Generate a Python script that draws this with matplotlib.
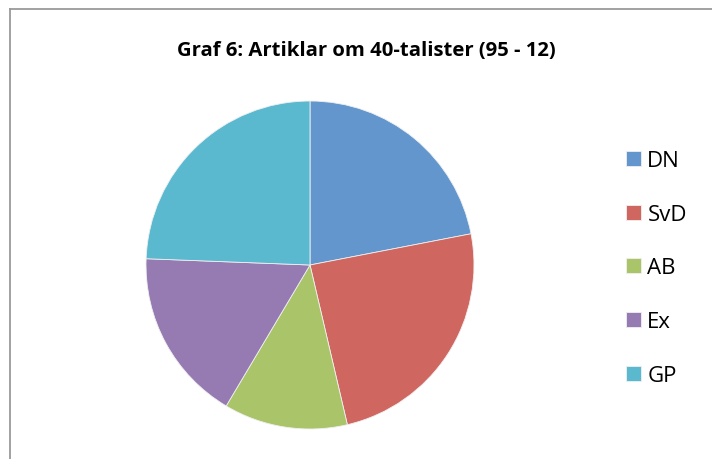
import matplotlib.pyplot as plt
from matplotlib.lines import Line2D

# data (article counts per paper)
papers = ['DN', 'SvD', 'AB', 'Ex', 'GP']
counts = [9, 10, 5, 7, 10]
colors = ['#6396CD', '#CF665F', '#AAC46A', '#967BB2', '#5AB9CF']

W, H = 712, 460
fig = plt.figure(figsize=(W / 100, H / 100), dpi=100)

# pie centre ~ (310, 266) px, radius ~164 px
cx, cy, r = 310, 266, 164
ax = fig.add_axes([(cx - r) / W, (H - cy - r) / H, 2 * r / W, 2 * r / H])
wedges, _ = ax.pie(counts, colors=colors, startangle=90, counterclock=False,
                   radius=1.0, wedgeprops=dict(edgecolor='#f0f0f0', linewidth=0.6))
ax.set_xlim(-1, 1)
ax.set_ylim(-1, 1)
ax.set_aspect('equal')
ax.axis('off')

fig.text(366 / W, 1 - 51 / H, 'Graf 6: Artiklar om 40-talister (95 - 12)',
         ha='center', va='center', fontsize=14.6, fontweight='bold',
         family='Open Sans')

leg = fig.legend(wedges, papers, loc='center left',
                 bbox_to_anchor=(626 / W, 1 - 269 / H),
                 frameon=False, prop=dict(family='Open Sans', size=16),
                 handlelength=0.66, handleheight=0.66, handletextpad=0.3,
                 labelspacing=1.47, borderpad=0, borderaxespad=0)

# chart frame (only left and top edges are visible in the crop)
frame_col = '#9a9a9a'
fig.add_artist(Line2D([9.5 / W, 9.5 / W], [0, 1 - 9.5 / H], color=frame_col, lw=1.3))
fig.add_artist(Line2D([9.5 / W, 1], [1 - 9.5 / H, 1 - 9.5 / H], color=frame_col, lw=1.3))

fig.savefig('out.png', dpi=100, facecolor='white')
